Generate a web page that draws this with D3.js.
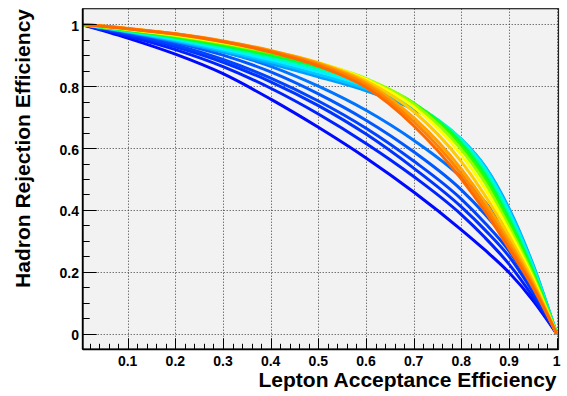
<!DOCTYPE html>
<html>
<head>
<meta charset="utf-8">
<script src="https://cdn.jsdelivr.net/npm/d3@7/dist/d3.min.js"></script>
<style>
html,body{margin:0;padding:0;background:#fff;}
svg{display:block;}
text{font-family:"Liberation Sans",Arial,Helvetica,sans-serif;font-weight:bold;fill:#000;}
</style>
</head>
<body>
<svg id="chart" width="567" height="396"></svg>
<script>
// ---------------- data ----------------
const effX = [0, 0.1, 0.2, 0.3, 0.4, 0.5, 0.6, 0.7, 0.8, 0.85, 0.9, 0.95, 1];

// ordered from darkest blue (drawn first) to orange (drawn last)
const curveB1 = [1, .955, .903, .840, .758, .667, .568, .458, .336, .270, .198, .108, 0];
const curveB2 = [1, .962, .918, .863, .793, .710, .615, .508, .385, .310, .225, .120, 0];
const curveB3 = [1, .967, .927, .877, .814, .737, .645, .535, .410, .335, .250, .135, 0];
const curveB4 = [1, .970, .933, .886, .826, .752, .664, .558, .435, .357, .268, .145, 0];
const curveB5 = [1, .973, .941, .900, .846, .775, .690, .588, .465, .385, .290, .160, 0];
const curveB6 = [1, .976, .948, .912, .864, .800, .722, .625, .505, .425, .325, .180, 0];
const curveS1 = [1, .975, .945, .910, .872, .830, .785, .725, .628, .540, .405, .225, 0];
const curveC2 = [1, .976, .948, .915, .879, .838, .792, .730, .628, .538, .400, .222, 0];
const curveC1 = [1, .977, .951, .920, .886, .847, .800, .737, .627, .532, .393, .217, 0];
const curveT1 = [1, .979, .955, .926, .894, .856, .809, .742, .622, .523, .382, .210, 0];
const curveG3 = [1, .980, .958, .931, .900, .863, .816, .745, .615, .512, .370, .202, 0];
const curveG2 = [1, .982, .961, .935, .905, .869, .821, .745, .606, .500, .358, .195, 0];
const curveG1 = [1, .983, .963, .938, .909, .874, .824, .742, .595, .487, .346, .188, 0];
const curveY2 = [1, .984, .965, .941, .912, .876, .822, .733, .578, .468, .332, .180, 0];
const curveY1 = [1, .985, .967, .944, .914, .876, .817, .718, .556, .446, .316, .172, 0];
const curveO3 = [1, .986, .969, .946, .915, .874, .811, .698, .532, .425, .300, .163, 0];
const curveO2 = [1, .986, .969, .945, .913, .870, .804, .685, .516, .410, .287, .156, 0];
const curveO1 = [1, .985, .968, .943, .910, .865, .796, .672, .500, .395, .275, .150, 0];

const seriesList = [curveB1, curveB2, curveB3, curveB4, curveB5, curveB6,
  curveS1, curveC2, curveC1, curveT1, curveG3, curveG2, curveG1,
  curveY2, curveY1, curveO3, curveO2, curveO1];
// hues (style) per series
const seriesHue = [238, 232, 228, 224, 219, 213, 203, 193, 183, 160, 135, 110, 85, 60, 48, 38, 31, 25];

const xTickVals = [0.1, 0.2, 0.3, 0.4, 0.5, 0.6, 0.7, 0.8, 0.9, 1];
const xTickLabels = ["0.1", "0.2", "0.3", "0.4", "0.5", "0.6", "0.7", "0.8", "0.9", "1"];
const yTickVals = [0, 0.2, 0.4, 0.6, 0.8, 1];
const yTickLabels = ["0", "0.2", "0.4", "0.6", "0.8", "1"];
const xTitle = "Lepton Acceptance Efficiency";
const yTitle = "Hadron Rejection Efficiency";

// ---------------- layout ----------------
const svg = d3.select("#chart");
const L = 82.7, R = 558.5, T = 8.7, B = 349.3;
const x = d3.scaleLinear().domain([0.00566, 1.0038]).range([L, R]);
const y = d3.scaleLinear().domain([-0.05, 1.05]).range([B, T]);

svg.append("rect").attr("x", L).attr("y", T).attr("width", R - L).attr("height", B - T)
  .attr("fill", "#f2f2f2");

// grid
const grid = svg.append("g").attr("stroke", "#3a3a3a").attr("stroke-width", 1)
  .attr("stroke-dasharray", "1,2");
xTickVals.forEach(v => {
  grid.append("line").attr("x1", Math.round(x(v)) + 0.5).attr("x2", Math.round(x(v)) + 0.5)
    .attr("y1", T).attr("y2", B);
});
yTickVals.forEach(v => {
  grid.append("line").attr("y1", Math.round(y(v)) + 0.5).attr("y2", Math.round(y(v)) + 0.5)
    .attr("x1", L).attr("x2", R);
});

// curves
const defs = svg.append("defs");
defs.append("clipPath").attr("id", "clip").append("rect")
  .attr("x", L).attr("y", T).attr("width", R - L).attr("height", B - T);
const line = d3.line().x(d => x(d[0])).y(d => y(d[1])).curve(d3.curveMonotoneX);
const cg = svg.append("g").attr("clip-path", "url(#clip)");
seriesList.forEach((s, i) => {
  const pts = effX.map((xv, k) => [xv, s[k]]);
  cg.append("path").attr("d", line(pts)).attr("fill", "none")
    .attr("stroke", d3.hsl(seriesHue[i], 1, 0.5).formatHex())
    .attr("stroke-width", 3).attr("stroke-linejoin", "round");
});

// frame
svg.append("rect").attr("x", L).attr("y", T).attr("width", R - L).attr("height", B - T)
  .attr("fill", "none").attr("stroke", "#222").attr("stroke-width", 1.2);
svg.append("line").attr("x1", L).attr("x2", L).attr("y1", T).attr("y2", B)
  .attr("stroke", "#000").attr("stroke-width", 1.8);
svg.append("line").attr("x1", L).attr("x2", R).attr("y1", B).attr("y2", B)
  .attr("stroke", "#000").attr("stroke-width", 1.8);

// ticks
const tk = svg.append("g").attr("stroke", "#000").attr("stroke-width", 1);
const xMinor = d3.range(1, 51).map(k => k * 0.02).filter(v => x(v) >= L && x(v) <= R);
xMinor.forEach(v => {
  const major = Math.abs(v * 10 - Math.round(v * 10)) < 1e-6;
  const xx = Math.round(x(v)) + 0.5;
  tk.append("line").attr("x1", xx).attr("x2", xx).attr("y1", B).attr("y2", B - (major ? 11 : 5.5));
});
const yMinor = d3.range(0, 21).map(k => k * 0.05);
yMinor.forEach(v => {
  const major = Math.abs(v * 5 - Math.round(v * 5)) < 1e-6;
  const yy = Math.round(y(v)) + 0.5;
  tk.append("line").attr("x1", L).attr("x2", L + (major ? 14 : 7)).attr("y1", yy).attr("y2", yy);
});

// tick labels
xTickVals.forEach((v, i) => {
  svg.append("text").attr("x", x(v)).attr("y", 366).attr("text-anchor", "middle")
    .style("font-size", "14px").text(xTickLabels[i]);
});
yTickVals.forEach((v, i) => {
  svg.append("text").attr("x", 79).attr("y", y(v) + 6.5).attr("text-anchor", "end")
    .style("font-size", "14px").text(yTickLabels[i]);
});

// titles
svg.append("text").attr("x", 556.5).attr("y", 387).attr("text-anchor", "end")
  .style("font-size", "21px").text(xTitle);
svg.append("text").attr("transform", "translate(30,9) rotate(-90)").attr("text-anchor", "end")
  .style("font-size", "21px").text(yTitle);
</script>
</body>
</html>
